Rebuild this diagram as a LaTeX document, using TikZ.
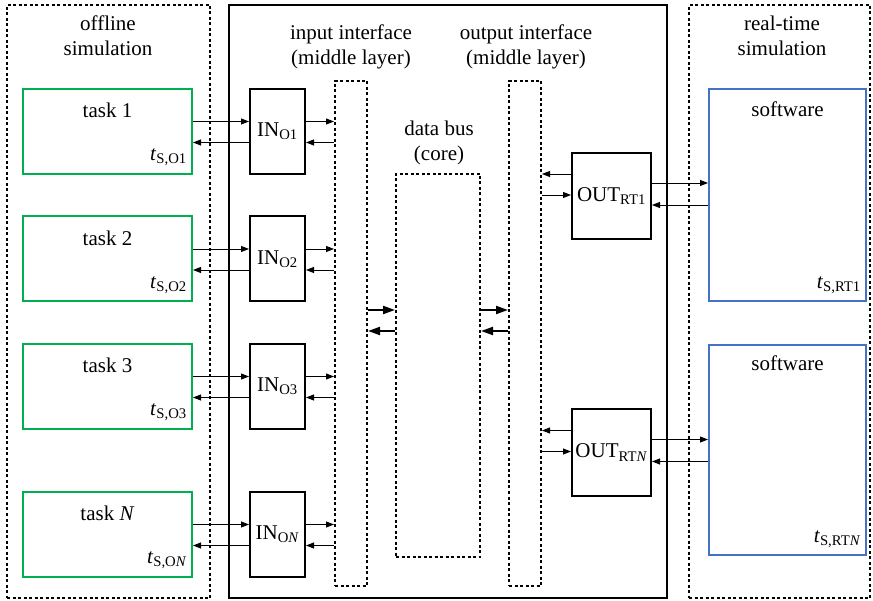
\documentclass[tikz,border=0pt]{standalone}
\usepackage{fontspec}
\setmainfont{Liberation Serif}
\usetikzlibrary{arrows.meta}
\definecolor{tgreen}{RGB}{0,176,80}
\definecolor{tblue}{RGB}{68,114,196}
\tikzset{
  txt/.style={font=\fontsize{21}{25}\selectfont, inner sep=0pt, align=center},
  outerdash/.style={draw, line width=2pt, dash pattern=on 3pt off 2.5pt},
  coldash/.style={draw, line width=2pt, dash pattern=on 3pt off 2.5pt, minimum width=32pt, inner sep=0pt},
  taskbox/.style={draw=tgreen, line width=2pt, minimum width=169pt, minimum height=85pt, inner sep=0pt},
  swbox/.style={draw=tblue, line width=2pt, minimum width=157pt, inner sep=0pt},
  inbox/.style={draw, line width=2pt, minimum width=55pt, minimum height=85pt, inner sep=0pt, font=\fontsize{21}{25}\selectfont},
  outbox/.style={draw, line width=2pt, minimum width=79pt, minimum height=86pt, inner sep=0pt, font=\fontsize{21}{25}\selectfont},
  arr/.style={line width=0.9pt, -{Stealth[length=8pt,width=6pt,inset=0pt]}},
  tarr/.style={line width=2pt, -{Stealth[length=12pt,width=8pt,inset=0pt]}},
}
\begin{document}
\begin{tikzpicture}[x=1pt,y=-1pt]
\useasboundingbox (0,0) rectangle (873,601);
% outer regions
\node[outerdash, minimum width=203pt, minimum height=593pt, inner sep=0pt] (off) at (108.5,301.5) {};
\node[draw, line width=2.2pt, minimum width=438pt, minimum height=593pt, inner sep=0pt] (mid) at (448,301.5) {};
\node[outerdash, minimum width=181pt, minimum height=593pt, inner sep=0pt] (rt) at (779.5,301.5) {};
% titles
\node[txt] (offT) at (108,36) {offline\\simulation};
\node[txt] (inT) at (351,47) {input interface\\(middle layer)};
\node[txt] (outT) at (526,47) {output interface\\(middle layer)};
\node[txt] (rtT) at (782,36) {real-time\\simulation};
\node[txt] (busT) at (439,143) {data bus\\(core)};
% tasks
\node[taskbox] (t1) at (107.5,131.5) {};
\node[taskbox] (t2) at (107.5,259) {};
\node[taskbox] (t3) at (107.5,386.5) {};
\node[taskbox] (tN) at (107.5,534.5) {};
\node[txt] (t1l) at ([yshift=21pt]t1.center) {task 1};
\node[txt] (t2l) at ([yshift=21pt]t2.center) {task 2};
\node[txt] (t3l) at ([yshift=21pt]t3.center) {task 3};
\node[txt] (tNl) at ([yshift=21pt]tN.center) {task \textit{N}};
\node[txt, anchor=east] (t1s) at ([xshift=-6pt,yshift=-26pt]t1.east) {\textit{t}\textsubscript{S,O1}};
\node[txt, anchor=east] (t2s) at ([xshift=-6pt,yshift=-26pt]t2.east) {\textit{t}\textsubscript{S,O2}};
\node[txt, anchor=east] (t3s) at ([xshift=-6pt,yshift=-26pt]t3.east) {\textit{t}\textsubscript{S,O3}};
\node[txt, anchor=east] (tNs) at ([xshift=-6pt,yshift=-26pt]tN.east) {\textit{t}\textsubscript{S,O\textit{N}}};
% IN boxes
\node[inbox] (i1) at (277.5,131.5) {IN\textsubscript{O1}};
\node[inbox] (i2) at (277.5,259) {IN\textsubscript{O2}};
\node[inbox] (i3) at (277.5,386.5) {IN\textsubscript{O3}};
\node[inbox] (iN) at (277.5,534.5) {IN\textsubscript{O\textit{N}}};
% columns and bus
\node[coldash, minimum height=505pt] (incol) at (351,333.5) {};
\node[coldash, minimum height=505pt] (outcol) at (525,333.5) {};
\node[coldash, minimum width=84pt, minimum height=383pt] (bus) at (438,365.5) {};
% OUT boxes
\node[outbox] (o1) at (611.5,196) {OUT\textsubscript{RT1}};
\node[outbox] (oN) at (611.5,452.5) {OUT\textsubscript{RT\textit{N}}};
% software
\node[swbox, minimum height=212pt] (s1) at (787.5,195) {};
\node[swbox, minimum height=210pt] (s2) at (787.5,450) {};
\node[txt] (s1l) at ([yshift=86pt]s1.center) {software};
\node[txt] (s2l) at ([yshift=87pt]s2.center) {software};
\node[txt, anchor=east] (s1s) at ([xshift=-6pt,yshift=-90pt]s1.east) {\textit{t}\textsubscript{S,RT1}};
\node[txt, anchor=east] (s2s) at ([xshift=-6pt,yshift=-89pt]s2.east) {\textit{t}\textsubscript{S,RT\textit{N}}};
% task <-> IN <-> column
\foreach \t/\i in {t1/i1,t2/i2,t3/i3,tN/iN}{
  \coordinate (ua) at ([yshift=10pt]\i.east);
  \coordinate (ub) at ([yshift=-11pt]\i.east);
  \draw[arr] ([yshift=10pt]\t.east) -- ([yshift=10pt]\i.west);
  \draw[arr] ([yshift=-11pt]\i.west) -- ([yshift=-11pt]\t.east);
  \draw[arr] (ua) -- (incol.west |- ua);
  \draw[arr] (incol.west |- ub) -- (ub);
}
% bus arrows
\coordinate (ya) at (0,310);
\coordinate (yb) at (0,331);
\draw[tarr] (incol.east |- ya) -- (bus.west |- ya);
\draw[tarr] (bus.west |- yb) -- (incol.east |- yb);
\draw[tarr] (bus.east |- ya) -- (outcol.west |- ya);
\draw[tarr] (outcol.west |- yb) -- (bus.east |- yb);
% OUT arrows
\foreach \o/\s in {o1/s1,oN/s2}{
  \coordinate (va) at ([yshift=22pt]\o.west);
  \coordinate (vb) at ([yshift=1pt]\o.west);
  \coordinate (wa) at ([yshift=13pt]\o.east);
  \coordinate (wb) at ([yshift=-9pt]\o.east);
  \draw[arr] (va) -- (outcol.east |- va);
  \draw[arr] (outcol.east |- vb) -- (vb);
  \draw[arr] (wa) -- (\s.west |- wa);
  \draw[arr] (\s.west |- wb) -- (wb);
}
\end{tikzpicture}
\end{document}
